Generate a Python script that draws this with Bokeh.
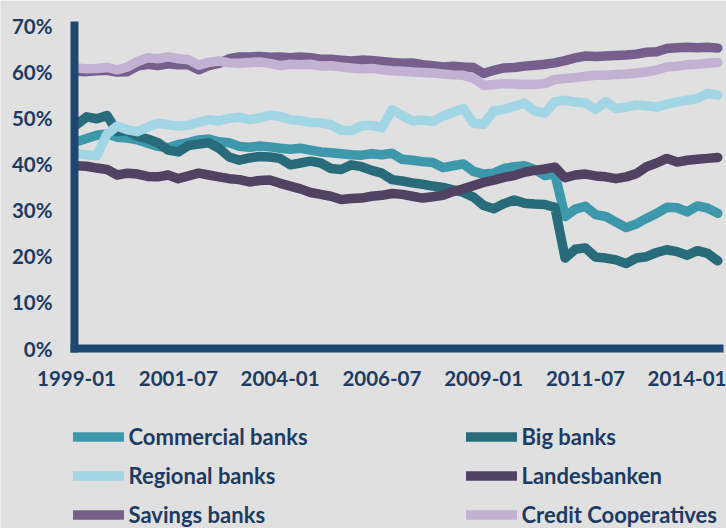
from bokeh.plotting import figure
from bokeh.models import Range1d, FixedTicker, PrintfTickFormatter, Legend, LegendItem
from bokeh.embed import file_html
from bokeh.resources import INLINE

# quarterly observations, month index counted from 1999-01
months = list(range(0, 190, 3))

tick_months = [0, 30, 60, 90, 120, 150, 180]
tick_labels = ["1999-01", "2001-07", "2004-01", "2006-07", "2009-01", "2011-07", "2014-01"]

commercial = [44.8, 45.5, 46.2, 46.5, 45.8, 45.6, 45.2, 44.5, 43.8, 43.5, 44.2, 44.6, 45.2, 45.4, 44.8, 44.6,
              43.8, 43.6, 43.9, 43.7, 43.4, 43.2, 43.4, 43.0, 42.6, 42.4, 42.2, 42.0, 41.9, 42.2, 42.0, 42.3,
              41.0, 40.8, 40.5, 40.3, 39.2, 39.6, 40.0, 38.4, 37.8, 38.0, 39.0, 39.4, 39.6, 38.8, 37.5, 37.8,
              28.6, 30.2, 30.8, 29.0, 28.6, 27.4, 26.2, 27.0, 28.2, 29.3, 30.6, 30.5, 29.6, 30.9, 30.4, 29.3]
big = [48.5, 50.2, 49.8, 50.5, 47.0, 47.2, 46.0, 45.4, 44.6, 43.0, 42.6, 44.0, 44.3, 44.6, 43.4, 41.5,
       40.8, 41.3, 41.6, 41.5, 41.2, 39.8, 40.2, 40.6, 40.2, 39.0, 38.8, 39.8, 39.4, 38.6, 38.0, 36.6,
       36.3, 35.9, 35.6, 35.2, 34.9, 34.4, 33.8, 32.8, 31.0, 30.3, 31.4, 32.2, 31.5, 31.3, 31.2, 30.6,
       19.6, 21.5, 21.8, 19.8, 19.6, 19.2, 18.4, 19.6, 19.9, 20.8, 21.4, 21.0, 20.2, 21.2, 20.6, 19.0]
regional = [42.2, 42.0, 41.8, 46.5, 48.2, 47.4, 47.0, 48.0, 48.8, 48.5, 48.2, 48.4, 49.0, 49.6, 49.3, 49.9,
            50.1, 49.6, 50.0, 50.6, 50.3, 49.6, 49.4, 49.0, 48.9, 48.5, 47.3, 47.2, 48.3, 48.4, 47.8, 51.8,
            50.5, 49.3, 49.5, 49.2, 50.4, 51.2, 52.0, 48.8, 48.6, 51.5, 51.8, 52.5, 53.2, 51.5, 51.0, 53.5,
            53.8, 53.4, 53.2, 51.8, 53.5, 52.0, 52.3, 52.8, 52.6, 52.3, 53.0, 53.4, 53.8, 54.2, 55.3, 54.9]
landesbanken = [39.6, 39.5, 39.1, 38.8, 37.6, 38.0, 37.8, 37.3, 37.2, 37.6, 36.8, 37.4, 38.0, 37.6, 37.2, 36.8,
                36.6, 36.1, 36.4, 36.5, 35.8, 35.2, 34.6, 33.8, 33.4, 33.0, 32.3, 32.5, 32.6, 33.0, 33.2, 33.6,
                33.4, 33.0, 32.6, 32.9, 33.2, 34.0, 34.6, 35.3, 36.0, 36.5, 37.1, 37.5, 38.2, 38.6, 38.9, 39.3,
                37.0, 37.6, 37.8, 37.4, 37.2, 36.8, 37.2, 37.9, 39.4, 40.2, 41.2, 40.4, 40.8, 41.0, 41.2, 41.4]
savings = [60.1, 60.0, 60.2, 60.3, 59.9, 60.0, 61.2, 61.6, 61.3, 61.7, 61.5, 61.5, 60.4, 61.3, 61.8, 62.8,
           63.2, 63.2, 63.3, 63.1, 63.2, 63.0, 63.2, 63.0, 62.7, 62.7, 62.5, 62.3, 62.5, 62.4, 62.2, 62.0,
           61.8, 61.9, 61.5, 61.3, 61.0, 61.2, 61.0, 60.9, 59.6, 60.3, 60.8, 60.9, 61.2, 61.4, 61.6, 61.9,
           62.4, 63.0, 63.4, 63.3, 63.4, 63.5, 63.6, 63.8, 64.2, 64.3, 65.0, 65.2, 65.3, 65.2, 65.3, 65.1]
cooperatives = [60.8, 60.6, 60.7, 60.9, 60.4, 61.0, 62.2, 63.0, 62.8, 63.2, 62.8, 62.6, 61.4, 62.0, 62.3, 61.9,
                61.8, 62.0, 62.1, 61.8, 61.3, 61.6, 61.5, 61.6, 61.2, 61.3, 61.0, 60.8, 60.6, 60.7, 60.4, 60.2,
                60.1, 59.9, 59.8, 59.7, 59.5, 59.3, 59.2, 58.6, 57.0, 57.2, 57.4, 57.3, 57.2, 57.2, 57.4, 58.3,
                58.5, 58.7, 59.0, 59.2, 59.2, 59.4, 59.5, 59.7, 59.9, 60.4, 61.0, 61.2, 61.5, 61.6, 61.8, 62.0]

series_names = ["Commercial banks", "Big banks", "Regional banks", "Landesbanken", "Savings banks", "Credit Cooperatives"]
series_values = [commercial, big, regional, landesbanken, savings, cooperatives]
series_colors = ["#3d98ab", "#286b7a", "#a3d6e5", "#514263", "#765f8c", "#c3b1d3"]

BG = "#e0e0e0"
NAVY = "#1f4871"
TEXT = "#1c3b63"
FONT = "Lato"

# layout (pixels): the plot frame covers the whole canvas, axes are pinned inside it
W, H = 726, 528
TOP, ZERO_Y = 25, 348          # rows of 70 % and 0 %
X0, PX_MONTH = 76, 3.393       # column of 1999-01 and pixels per month
AXIS_X = 74                    # column of the vertical axis line
px_pct = (ZERO_Y - TOP) / 70.0

x_start = -X0 / PX_MONTH
x_end = (W - X0) / PX_MONTH
y_end = 70 + TOP / px_pct
y_start = -(H - ZERO_Y) / px_pct

p = figure(width=W, height=H, output_backend="svg", toolbar_location=None,
           x_range=Range1d(x_start, x_end), y_range=Range1d(y_start, y_end),
           min_border=0,
           background_fill_color=BG, border_fill_color=BG, outline_line_color=None)
p.grid.visible = False

renderers = []
for name, vals, col in zip(series_names, series_values, series_colors):
    r = p.line(months, vals, line_color=col, line_width=9.5, line_join="round", line_cap="round")
    renderers.append(r)

for ax in (p.xaxis[0], p.yaxis[0]):
    ax.axis_line_color = NAVY
    ax.axis_line_width = 8
    ax.major_tick_line_color = None
    ax.minor_tick_line_color = None
    ax.major_tick_out = 0
    ax.major_tick_in = 0
    ax.major_label_text_font = FONT
    ax.major_label_text_font_style = "bold"
    ax.major_label_text_font_size = "20.5px"
    ax.major_label_text_color = TEXT

p.xaxis.fixed_location = 0
p.xaxis.bounds = ((70 - X0) / PX_MONTH, (723 - X0) / PX_MONTH)
p.xaxis.ticker = FixedTicker(ticks=tick_months)
p.xaxis.major_label_overrides = {m: lab for m, lab in zip(tick_months, tick_labels)}
p.xaxis.major_label_standoff = 22

p.yaxis.fixed_location = (AXIS_X - X0) / PX_MONTH
p.yaxis.bounds = (-3.5 / px_pct, 70 + 4 / px_pct)
p.yaxis.ticker = FixedTicker(ticks=[0, 10, 20, 30, 40, 50, 60, 70])
p.yaxis.formatter = PrintfTickFormatter(format="%d%%")
p.yaxis.major_label_standoff = 22


def make_legend(idx, loc):
    lg = Legend(items=[LegendItem(label=series_names[i], renderers=[renderers[i]]) for i in idx],
                location=loc, orientation="vertical",
                background_fill_alpha=0, border_line_alpha=0, padding=0, margin=0,
                spacing=12, glyph_height=27, label_height=27, glyph_width=51, label_standoff=5,
                label_text_font=FONT, label_text_font_style="bold", label_text_font_size="22px",
                label_text_color=TEXT)
    p.add_layout(lg, "center")


make_legend([0, 2, 4], (72.5, 0.5))
make_legend([1, 3, 5], (465.5, 0.5))

open("out.html", "w").write(file_html(p, INLINE))
